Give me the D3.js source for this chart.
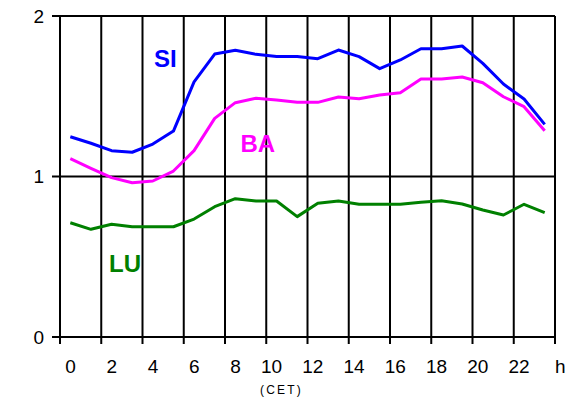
<!DOCTYPE html>
<html><head><meta charset="utf-8">
<script src="https://cdn.jsdelivr.net/npm/d3@7"></script>
<style>body{margin:0;background:#fff}svg{display:block}text{font-family:"Liberation Sans",Arial,sans-serif}</style>
</head><body><svg id="c" width="570" height="417"></svg>
<script>
const hours = d3.range(0, 24);
const SI = [1.248,1.207,1.161,1.151,1.202,1.283,1.59,1.763,1.786,1.761,1.747,1.747,1.734,1.788,1.747,1.672,1.726,1.796,1.796,1.813,1.705,1.576,1.483,1.325];
const BA = [1.111,1.051,0.993,0.961,0.972,1.034,1.161,1.362,1.460,1.487,1.477,1.462,1.462,1.495,1.485,1.508,1.522,1.607,1.607,1.620,1.584,1.497,1.435,1.285];
const LU = [0.712,0.671,0.702,0.687,0.687,0.687,0.735,0.812,0.862,0.847,0.847,0.750,0.833,0.847,0.827,0.827,0.827,0.839,0.849,0.829,0.791,0.760,0.827,0.775];
const xTickHours = [0,2,4,6,8,10,12,14,16,18,20,22];
const yTicks = [0,1,2];
const seriesNames = ["SI","BA","LU"];
const seriesColors = ["#0000ff","#ff00ff","#008000"];

const svg = d3.select("#c");
const L = 60, R = 555, T = 16, B = 337;
const x = d3.scaleBand().domain(hours).range([L, R]).paddingInner(0).paddingOuter(0);
const y = d3.scaleLinear().domain([0, 2]).range([B, T]);
const cx = h => x(h) + x.bandwidth() / 2;

// vertical grid lines at every 2-hour boundary
const g = svg.append("g");
const bounds = d3.range(0, 25, 2);
bounds.forEach(b => {
  const xx = b < 24 ? x(b) : R;
  g.append("line").attr("x1", xx).attr("x2", xx).attr("y1", T).attr("y2", B + 7)
    .attr("stroke", "#000").attr("stroke-width", 2);
});
// horizontal grid lines
yTicks.forEach(v => {
  g.append("line").attr("x1", L - 8).attr("x2", R).attr("y1", y(v)).attr("y2", y(v))
    .attr("stroke", "#000").attr("stroke-width", 2);
  svg.append("text").attr("x", 44).attr("y", y(v)).attr("dy", "0.36em")
    .attr("text-anchor", "end").attr("font-size", 19).text(v);
});
// x tick labels
xTickHours.forEach(h => {
  svg.append("text").attr("x", cx(h) + 5.5).attr("y", 372.5)
    .attr("text-anchor", "end").attr("font-size", 19).text(h);
});
svg.append("text").attr("x", R).attr("y", 372.5).attr("font-size", 19).text("h");
svg.append("text").attr("x", 281.5).attr("y", 394).attr("text-anchor", "middle")
  .attr("font-size", 12).attr("letter-spacing", 2.2).text("(CET)");

// lines
const line = d3.line().x((d, i) => cx(hours[i])).y(d => y(d));
[SI, BA, LU].forEach((s, i) => {
  svg.append("path").datum(s).attr("d", line).attr("fill", "none")
    .attr("stroke", seriesColors[i]).attr("stroke-width", 3).attr("stroke-linejoin", "round");
});
// series labels
const labelPos = [[154, 66.5], [240.5, 151.5], [109, 272]];
seriesNames.forEach((n, i) => {
  svg.append("text").attr("x", labelPos[i][0]).attr("y", labelPos[i][1])
    .attr("font-size", 24).attr("font-weight", "bold").attr("fill", seriesColors[i]).text(n);
});
</script></body></html>
